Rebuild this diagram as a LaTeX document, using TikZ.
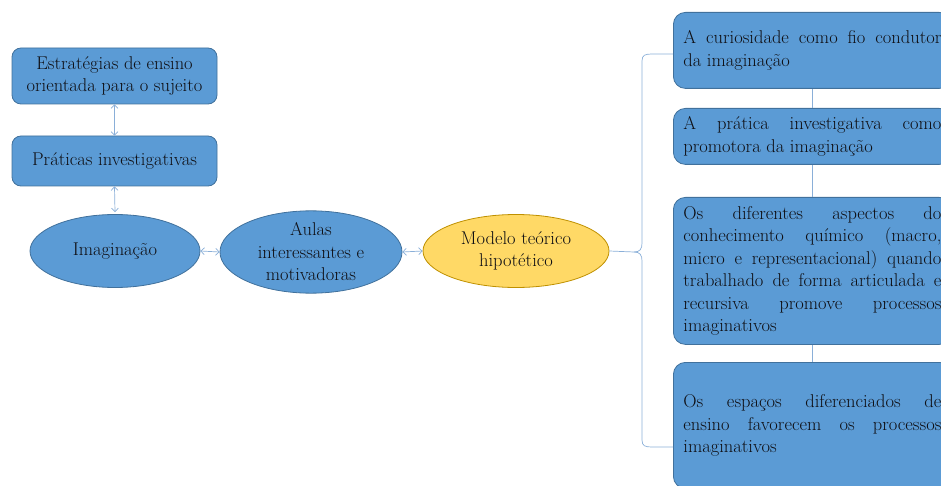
\documentclass[tikz,border=0pt]{standalone}
\usetikzlibrary{arrows.meta,shapes.geometric}
\definecolor{boxblue}{HTML}{5B9BD5}
\definecolor{boxedge}{HTML}{41719C}
\definecolor{ellyellow}{HTML}{FFD966}
\definecolor{elledge}{HTML}{BF9000}
\definecolor{linkblue}{HTML}{8AAFD8}
\definecolor{txt}{HTML}{0F0F14}
\begin{document}
\begin{tikzpicture}[x=1pt,y=-1pt,
  every node/.style={text=txt, font=\fontsize{18.5}{22.5}\selectfont},
  lbox/.style={draw=boxedge, fill=boxblue, line width=0.8pt, rounded corners=9pt,
    minimum width=205pt, align=center, inner sep=0pt},
  rbox/.style={draw=boxedge, fill=boxblue, line width=0.8pt, rounded corners=12pt,
    text width=258pt, inner xsep=10pt, inner ysep=0pt, align=justify, anchor=north west},
  bell/.style={ellipse, draw=boxedge, fill=boxblue, line width=0.8pt, inner sep=0pt, align=center},
  yell/.style={ellipse, draw=elledge, fill=ellyellow, line width=0.8pt, inner sep=0pt, align=center},
  link/.style={draw=linkblue, line width=0.7pt},
  biarrow/.style={link, {Straight Barb[length=3.5pt,width=7pt]}-{Straight Barb[length=3.5pt,width=7pt]}}
]
\useasboundingbox (0,0) rectangle (941,486);

% left column
\node[lbox, minimum height=56pt] (estr) at (114.5,76) {Estratégias de ensino\\orientada para o sujeito};
\node[lbox, minimum height=50pt] (prat) at (114.5,161) {Práticas investigativas};

% ellipses
\node[bell, minimum width=170pt, minimum height=73pt] (imag) at (115,251) {Imaginação};
\node[bell, minimum width=182pt, minimum height=69pt] (aulas) at (311,252) {Aulas\\interessantes e\\motivadoras};
\node[yell, minimum width=186pt, minimum height=73pt] (model) at (516,251) {Modelo teórico\\hipotético};

% right column
\node[rbox, minimum height=76pt] (ra) at (673,12) {A curiosidade como fio condutor\linebreak da imaginação};
\node[rbox, minimum height=56pt] (rb) at (673,108) {A prática investigativa como\linebreak promotora da imaginação};
\node[rbox, minimum height=147pt] (rc) at (673,197) {Os diferentes aspectos do\linebreak conhecimento químico (macro,\linebreak micro e representacional) quando\linebreak trabalhado de forma articulada e\linebreak recursiva promove processos\linebreak imaginativos};
\node[rbox, minimum height=126pt] (rd) at (673,362) {Os espaços diferenciados de\linebreak ensino favorecem os processos\linebreak imaginativos};

% arrows
\draw[biarrow] (estr.south) -- (prat.north);
\draw[biarrow] (prat.south) -- ([yshift=2pt]imag.north);
\draw[biarrow] (imag.east) -- (aulas.west);
\draw[biarrow] (aulas.east) -- (model.west);

% right connectors
\draw[link] (ra.south) -- (rb.north);
\draw[link] (rb.south) -- (rc.north);
\draw[link] (rc.south) -- (rd.north);

% brace
\coordinate (tipb) at (634,252);
\coordinate (topend) at (ra.west |- 0,54);
\coordinate (botend) at (rd.west |- 0,447);
\draw[link] (model.east) -- (tipb)
  .. controls (640,252) and (642,249) .. (642,243)
  -- (642,61) .. controls (642,55) and (645,54) .. (652,54) -- (topend);
\draw[link] (tipb)
  .. controls (640,252) and (642,255) .. (642,261)
  -- (642,440) .. controls (642,446) and (645,447) .. (652,447) -- (botend);
\end{tikzpicture}
\end{document}
